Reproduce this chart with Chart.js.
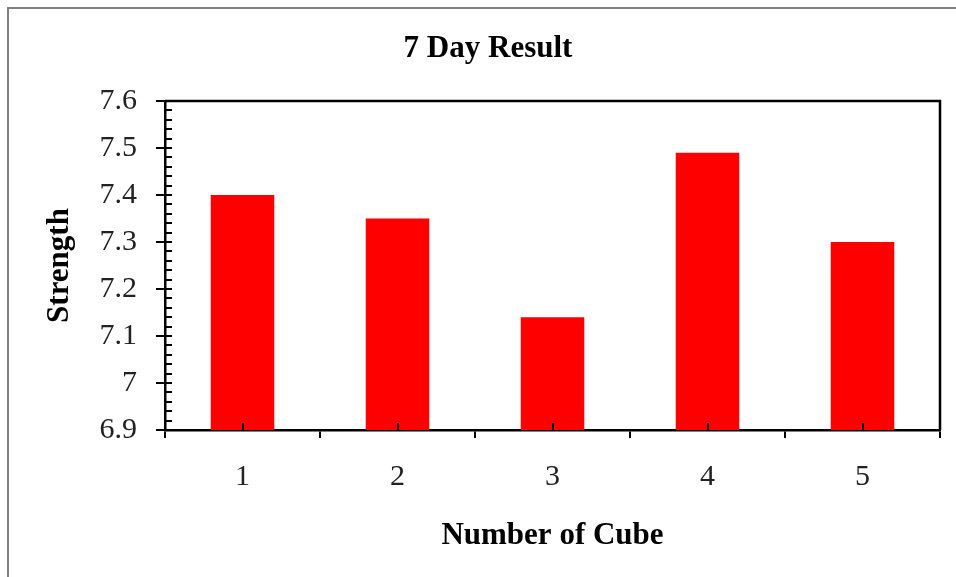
<!DOCTYPE html>
<html>
<head>
<meta charset="utf-8">
<script src="https://cdn.jsdelivr.net/npm/chart.js@4"></script>
<style>
  html, body { margin: 0; padding: 0; background: #fff; overflow: hidden; }
  #wrap { width: 956px; height: 577px; }
</style>
</head>
<body>
<div id="wrap"><canvas id="chart" width="956" height="577"></canvas></div>
<script>
// dados do gráfico
const categories = ["1", "2", "3", "4", "5"];
const strength = [7.40, 7.35, 7.14, 7.49, 7.30];
const yTicks = [6.9, 7.0, 7.1, 7.2, 7.3, 7.4, 7.5, 7.6];
const yMinorStep = 0.02;
const chartTitle = "7 Day Result";
const xTitle = "Number of Cube";
const yTitle = "Strength";

const serif = "'Liberation Serif', 'Times New Roman', serif";

// moldura, título e marcas menores
const decorPlugin = {
  id: "decor",
  beforeDraw(chart) {
    const ctx = chart.ctx;
    ctx.save();
    ctx.fillStyle = "#fff";
    ctx.fillRect(0, 0, chart.width, chart.height);
    ctx.fillStyle = "#808080";
    ctx.fillRect(7, 7, 2, chart.height);
    ctx.fillRect(7, 7, chart.width, 2);
    ctx.restore();
  },
  afterDraw(chart) {
    const ctx = chart.ctx;
    const area = chart.chartArea;
    const x = chart.scales.x;
    const y = chart.scales.y;
    ctx.save();
    ctx.strokeStyle = "#000";
    ctx.lineWidth = 2.5;
    ctx.beginPath();
    ctx.moveTo(area.left, area.top);
    ctx.lineTo(area.right, area.top);
    ctx.lineTo(area.right, area.bottom);
    ctx.stroke();

    // marcas menores do eixo y (para dentro)
    ctx.lineWidth = 2;
    ctx.beginPath();
    const lo = yTicks[0], hi = yTicks[yTicks.length - 1];
    const n = Math.round((hi - lo) / yMinorStep);
    for (let i = 0; i <= n; i++) {
      const py = Math.round(y.getPixelForValue(lo + i * yMinorStep));
      ctx.moveTo(area.left, py);
      ctx.lineTo(area.left + 7, py);
    }
    // marcas no centro das categorias (para dentro)
    categories.forEach((c, i) => {
      const px = Math.round(x.getPixelForValue(i));
      ctx.moveTo(px, area.bottom);
      ctx.lineTo(px, area.bottom - 7);
    });
    ctx.stroke();

    // título
    ctx.fillStyle = "#000";
    ctx.font = "bold 31px " + serif;
    ctx.textAlign = "center";
    ctx.textBaseline = "alphabetic";
    ctx.fillText(chartTitle, 488, 57);
    ctx.restore();
  }
};

new Chart(document.getElementById("chart"), {
  type: "bar",
  data: {
    labels: categories,
    datasets: [
      {
        data: strength,
        backgroundColor: "#ff0000",
        borderWidth: 0,
        barPercentage: 0.41,
        categoryPercentage: 1.0,
      },
    ],
  },
  options: {
    responsive: false,
    animation: false,
    layout: { padding: { top: 101, right: 16, left: 0, bottom: 0 } },
    plugins: {
      legend: { display: false },
      title: { display: false },
      tooltip: { enabled: false },
    },
    scales: {
      x: {
        offset: true,
        grid: {
          offset: true,
          drawOnChartArea: false,
          drawTicks: true,
          tickLength: 8,
          color: "#000",
          lineWidth: 2,
        },
        border: { color: "#000", width: 2.5 },
        ticks: {
          color: "#222",
          font: { family: serif, size: 30 },
          padding: 21,
        },
        title: {
          display: true,
          text: xTitle,
          color: "#000",
          font: { family: serif, size: 31, weight: "bold" },
          padding: { top: 0, bottom: 22 },
        },
        afterFit(scale) {
          scale.height = 147;
        },
      },
      y: {
        min: yTicks[0],
        max: yTicks[yTicks.length - 1],
        afterBuildTicks(scale) {
          scale.ticks = yTicks.map((v) => ({ value: v }));
        },
        grid: {
          drawOnChartArea: false,
          drawTicks: true,
          tickLength: 9,
          color: "#000",
          lineWidth: 2,
        },
        border: { color: "#000", width: 2.5 },
        ticks: {
          color: "#222",
          font: { family: serif, size: 30 },
          padding: 19,
          callback: (v) => String(Math.round(v * 10) / 10),
        },
        title: {
          display: true,
          text: yTitle,
          color: "#000",
          font: { family: serif, size: 31, weight: "bold" },
          padding: { top: 41, bottom: 0 },
        },
        afterFit(scale) {
          scale.width = 165;
        },
      },
    },
  },
  plugins: [decorPlugin],
});
</script>
</body>
</html>
